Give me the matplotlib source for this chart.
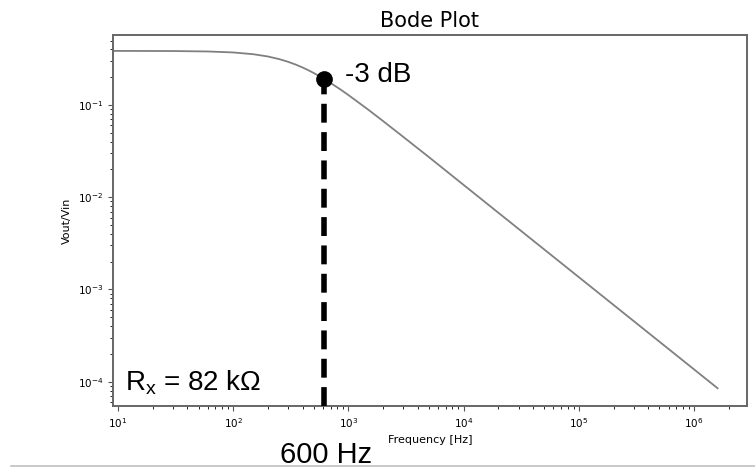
import matplotlib
matplotlib.use("Agg")
import matplotlib.pyplot as plt
from matplotlib.lines import Line2D

# values
freq_hz = [9, 30, 60, 100, 150, 200, 250, 300, 350, 400, 450, 500, 600, 700,
           850, 1000, 1500, 2000, 3000, 5000, 1e4, 1e5, 1e6, 1.6e6]
gain = [0.386, 0.3846, 0.3805, 0.3713, 0.3551, 0.3356, 0.3147, 0.2937, 0.2737,
        0.2550, 0.2378, 0.2222, 0.1953, 0.1734, 0.1477, 0.1282, 0.0882, 0.0669,
        0.0450, 0.0272, 0.01359, 0.001359, 0.0001359, 0.0000849]

cutoff_freq = 610
cutoff_gain = 0.19

title = "Bode Plot"
xlabel = "Frequency [Hz]"
ylabel = "Vout/Vin"
point_label = "-3 dB"
res_label = r"$\mathregular{R_x}$ = 82 kΩ"
freq_label = "600 Hz"

W, H = 755, 469
fig = plt.figure(figsize=(W / 100, H / 100), dpi=100)
ax = fig.add_axes([113 / W, 1 - 406 / H, (747 - 113) / W, (406 - 35) / H])

ax.loglog(freq_hz, gain, color="#808080", lw=1.3)
ax.set_xlim(9.05, 2.88e6)
ax.set_ylim(5.45e-5, 0.574)

# dashed marker line at the corner frequency
ax.plot([cutoff_freq, cutoff_freq], [5.45e-5, cutoff_gain], color="black",
        lw=4, ls=(0, (3.4, 1.7)), clip_on=False, zorder=3)
ax.plot([cutoff_freq], [cutoff_gain], "o", color="black", ms=11, zorder=4)

ax.set_title(title, fontsize=15, pad=6)
ax.set_xlabel(xlabel, fontsize=8, labelpad=4)
ax.set_ylabel(ylabel, fontsize=8, labelpad=4)
ax.tick_params(labelsize=7.5, color="#555555")
for sp in ax.spines.values():
    sp.set_color("#666666")
    sp.set_linewidth(1.4)

ann_font = dict(family="Liberation Sans", color="black")
ax.annotate(point_label, (cutoff_freq, cutoff_gain), xytext=(15, 3),
            textcoords="offset points", va="center", ha="left",
            fontsize=20, **ann_font)
ax.text(125 / W, 1 - 383 / H, res_label, transform=fig.transFigure,
        va="center", ha="left", fontsize=20, **ann_font)
fig.text(280 / W, 1 - 455 / H, freq_label, va="center", ha="left",
         fontsize=21, **ann_font)

# thin grey rule at the bottom of the screenshot
fig.add_artist(Line2D([11 / W, 1], [1 - 466 / H, 1 - 466 / H],
                      transform=fig.transFigure, color="#c0c0c0", lw=1.2))

fig.savefig("out.png", dpi=100)
